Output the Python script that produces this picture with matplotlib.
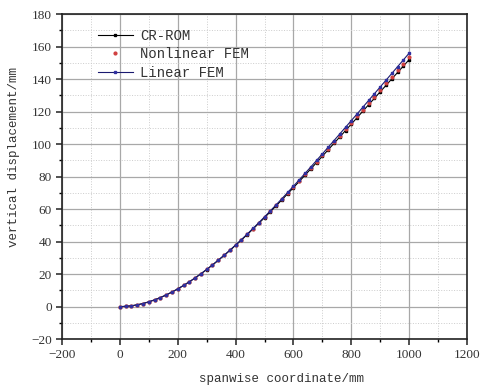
import matplotlib.pyplot as plt
from matplotlib.ticker import MultipleLocator

# spanwise stations (mm)
span = [0, 20, 40, 60, 80, 100, 120, 140, 160, 180, 200, 220, 240, 260, 280,
        300, 320, 340, 360, 380, 400, 420, 440, 460, 480, 500, 520, 540, 560,
        580, 600, 620, 640, 660, 680, 700, 720, 740, 760, 780, 800, 820, 840,
        860, 880, 900, 920, 940, 960, 980, 1000]

# vertical displacement (mm)
cr_rom = [0, 0.12, 0.49, 1.08, 1.89, 2.92, 4.14, 5.56, 7.16, 8.94, 10.88,
          12.98, 15.23, 17.62, 20.14, 22.80, 25.57, 28.46, 31.44, 34.52, 37.70,
          40.96, 44.30, 47.72, 51.20, 54.75, 58.35, 62.01, 65.71, 69.45, 73.23,
          77.04, 80.89, 84.76, 88.66, 92.57, 96.50, 100.45, 104.40, 108.36,
          112.33, 116.30, 120.28, 124.26, 128.23, 132.21, 136.17, 140.14,
          144.10, 148.06, 152.00]
nonlinear_fem = [0, 0.12, 0.49, 1.08, 1.89, 2.92, 4.14, 5.56, 7.16, 8.94, 10.89,
                 12.99, 15.25, 17.64, 20.17, 22.84, 25.61, 28.51, 31.50, 34.60,
                 37.79, 41.07, 44.43, 47.86, 51.37, 54.94, 58.56, 62.25, 65.98,
                 69.75, 73.57, 77.42, 81.30, 85.21, 89.16, 93.11, 97.09, 101.09,
                 105.09, 109.11, 113.14, 117.17, 121.20, 125.25, 129.29, 133.33,
                 137.37, 141.41, 145.44, 149.48, 153.50]
linear_fem = [0, 0.12, 0.49, 1.08, 1.89, 2.92, 4.14, 5.56, 7.17, 8.95, 10.90,
              13.01, 15.27, 17.67, 20.21, 22.89, 25.68, 28.59, 31.60, 34.72,
              37.94, 41.24, 44.63, 48.10, 51.64, 55.25, 58.92, 62.65, 66.43,
              70.26, 74.13, 78.04, 81.99, 85.97, 89.99, 94.02, 98.08, 102.16,
              106.25, 110.36, 114.48, 118.61, 122.75, 126.90, 131.05, 135.21,
              139.36, 143.52, 147.68, 151.84, 156.00]

fig = plt.figure(figsize=(4.81, 3.92), dpi=100)
ax = fig.add_axes([0.129, 0.135, 0.842, 0.829])

ax.plot(span, cr_rom, color='black', linewidth=0.8, marker='s', markersize=2,
        label='CR-ROM', zorder=3)
ax.plot(span, nonlinear_fem, color='#d04040', linestyle='none', marker='o',
        markersize=2, label='Nonlinear FEM', zorder=4)
ax.plot(span, linear_fem, color='#1a1a70', linewidth=0.8, marker='s',
        markersize=2, markerfacecolor='#3030a0', markeredgecolor='#3030a0',
        label='Linear FEM', zorder=5)

ax.set_xlim(-200, 1200)
ax.set_ylim(-20, 180)
ax.xaxis.set_major_locator(MultipleLocator(200))
ax.xaxis.set_minor_locator(MultipleLocator(100))
ax.yaxis.set_major_locator(MultipleLocator(20))
ax.yaxis.set_minor_locator(MultipleLocator(10))

ax.grid(which='major', color='#a8a8a8', linewidth=0.9, linestyle='-')
ax.grid(which='minor', color='#cccccc', linewidth=0.7, linestyle=':')
ax.set_axisbelow(True)

for s in ax.spines.values():
    s.set_linewidth(1.2)
    s.set_color('#222222')

ax.tick_params(which='major', direction='out', length=4, width=1.1,
               labelsize=9.5, colors='#222222', top=False, right=False)
ax.tick_params(which='minor', direction='out', length=2.5, width=1.0,
               top=False, right=False)
for lab in ax.get_xticklabels() + ax.get_yticklabels():
    lab.set_family('Liberation Serif')
    lab.set_color('#333333')

ax.set_xlabel('spanwise coordinate/mm', family='Liberation Mono', fontsize=9,
              color='#333333', labelpad=5)
ax.xaxis.set_label_coords(0.543, -0.105)
ax.set_ylabel('vertical displacement/mm', family='Liberation Mono', fontsize=9,
              color='#333333')
ax.yaxis.set_label_coords(-0.105, 0.56)

leg = ax.legend(loc='upper left', frameon=False, handlelength=2.5,
                prop={'family': 'Liberation Mono', 'size': 10},
                bbox_to_anchor=(0.065, 0.985), borderaxespad=0.3,
                labelspacing=0.33, handletextpad=0.55)
for t in leg.get_texts():
    t.set_color('#333333')

plt.savefig('out.png', dpi=100)
